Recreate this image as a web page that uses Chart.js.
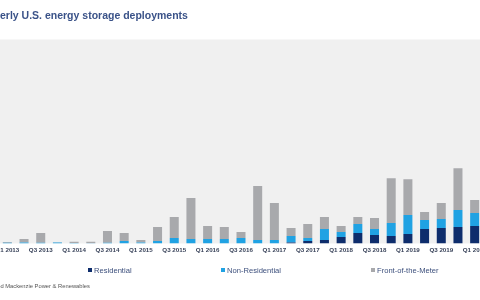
<!DOCTYPE html>
<html>
<head>
<meta charset="utf-8">
<script src="https://cdn.jsdelivr.net/npm/chart.js@4.4.1/dist/chart.umd.min.js"></script>
<style>
  html, body { margin: 0; padding: 0; background: #fff; }
  body { width: 480px; height: 300px; position: relative; overflow: hidden; font-family: "Liberation Sans", Arial, sans-serif; }
  #chart { position: absolute; left: -5px; top: 0; }
  #title { position: absolute; left: -28px; top: 9px; font-size: 10.5px; font-weight: bold; color: #3a5288; white-space: nowrap; }
  .legend-item { position: absolute; top: 265px; height: 10px; display: flex; align-items: center; font-size: 7.6px; color: #3c4f7c; white-space: nowrap; }
  .legend-item i { display: inline-block; width: 4px; height: 4px; margin-right: 2px; }
  #source { position: absolute; left: -33px; top: 283px; font-size: 5.8px; color: #555; white-space: nowrap; }
</style>
</head>
<body>
<canvas id="chart" width="492" height="300"></canvas>
<div id="title">Quarterly U.S. energy storage deployments</div>
<div id="legend"></div>
<div id="source">Source: Wood Mackenzie Power &amp; Renewables</div>
<script>
// quarterly deployments (MW)
const quarters = [
  'Q1 2013', 'Q2 2013', 'Q3 2013', 'Q4 2013',
  'Q1 2014', 'Q2 2014', 'Q3 2014', 'Q4 2014',
  'Q1 2015', 'Q2 2015', 'Q3 2015', 'Q4 2015',
  'Q1 2016', 'Q2 2016', 'Q3 2016', 'Q4 2016',
  'Q1 2017', 'Q2 2017', 'Q3 2017', 'Q4 2017',
  'Q1 2018', 'Q2 2018', 'Q3 2018', 'Q4 2018',
  'Q1 2019', 'Q2 2019', 'Q3 2019', 'Q4 2019',
  'Q1 2020'
];
const residential = [0, 0, 0, 0, 0, 0, 0, 0, 0, 0, 0, 0, 0, 0, 0, 0, 0, 4, 10, 14, 26, 42, 34, 30, 38, 58, 62, 66, 70];
const nonResidential = [3, 4, 3, 4, 2, 1, 3, 10, 4, 10, 22, 18, 18, 18, 22, 14, 14, 26, 12, 44, 20, 36, 24, 52, 76, 36, 36, 68, 52];
const frontOfMeter = [3, 14, 39, 1, 5, 6, 47, 32, 10, 56, 84, 164, 52, 48, 24, 216, 148, 32, 56, 48, 24, 28, 44, 180, 144, 32, 64, 168, 52];

const seriesNames = ['Residential', 'Non-Residential', 'Front-of-the-Meter'];
const seriesColors = ['#0e2d6c', '#20a2e3', '#a8a9ac'];
const legendLeft = [88, 221, 371];

// gray plot background
const plotBg = {
  id: 'plotBg',
  beforeDraw(chart) {
    const { ctx, chartArea: a } = chart;
    ctx.save();
    ctx.fillStyle = '#f0f0f0';
    ctx.fillRect(0, a.top, chart.width, a.bottom - a.top);
    ctx.restore();
  }
};

const chart = new Chart(document.getElementById('chart'), {
  type: 'bar',
  data: {
    labels: quarters,
    datasets: [residential, nonResidential, frontOfMeter].map((d, i) => ({
      label: seriesNames[i],
      data: d,
      backgroundColor: seriesColors[i],
      borderWidth: 0,
      barPercentage: 0.54,
      categoryPercentage: 1
    }))
  },
  options: {
    responsive: false,
    animation: false,
    layout: { padding: { top: 39.5, bottom: 45.8, left: 4, right: 4 } },
    plugins: { legend: { display: false }, tooltip: { enabled: false } },
    scales: {
      x: {
        stacked: true,
        // ticks hidden, tickLength only pushes labels down
        grid: { display: false, drawTicks: true, tickLength: 3.3 },
        border: { display: false },
        ticks: {
          autoSkip: false,
          maxRotation: 0,
          padding: 0,
          color: '#39435a',
          font: { family: 'Liberation Sans', size: 6.2, weight: 'bold' },
          callback: (v, i) => (i % 2 === 0 ? quarters[i] : '')
        }
      },
      y: { stacked: true, display: false, min: 0, max: 818 }
    }
  },
  plugins: [plotBg]
});

// html legend, spaced like the original
const legend = document.getElementById('legend');
chart.data.datasets.forEach((ds, i) => {
  const item = document.createElement('div');
  item.className = 'legend-item';
  item.style.left = legendLeft[i] + 'px';
  item.innerHTML = '<i style="background:' + ds.backgroundColor + '"></i>' + ds.label;
  legend.appendChild(item);
});
</script>
</body>
</html>
